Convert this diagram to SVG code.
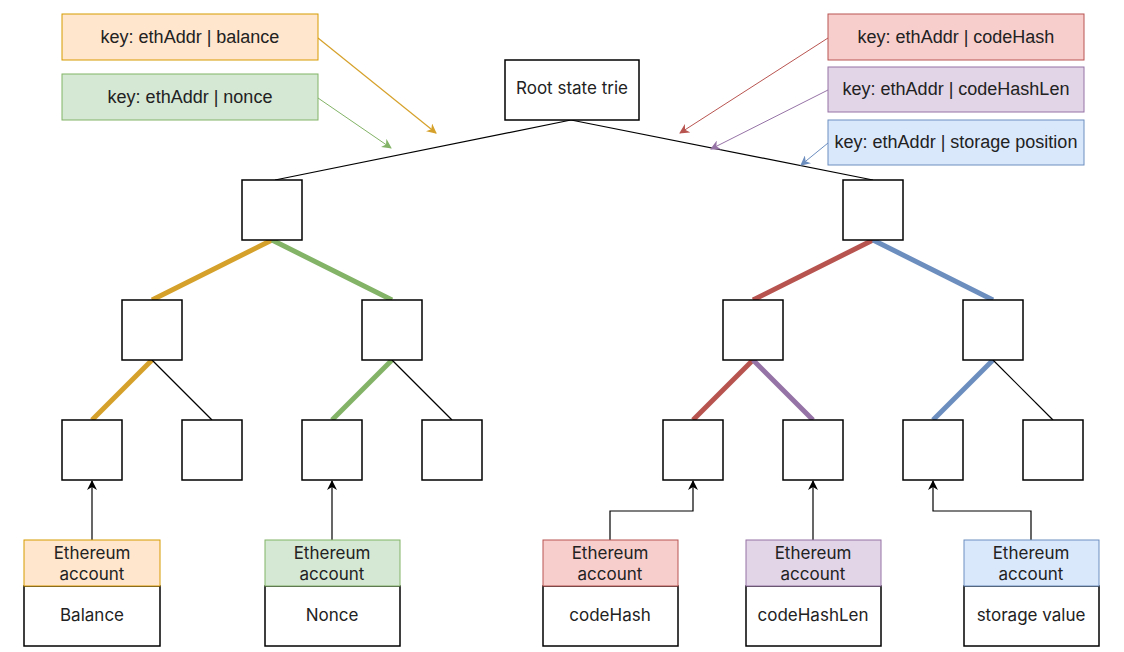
<svg xmlns="http://www.w3.org/2000/svg" width="1124" height="652" viewBox="0 0 1124 652">
<style>
.node{fill:#fff;stroke:#000;stroke-width:1.5}
.key{font-family:"Liberation Sans",Arial,sans-serif;font-size:18px;fill:#222;text-anchor:middle}
.lbl{font-family:Inter,"Noto Sans",sans-serif;font-size:17px;fill:#222;text-anchor:middle}
.thin{stroke:#000;stroke-width:1.2;fill:none}
.thick{stroke-width:5;fill:none;stroke-linecap:butt}
</style>
<defs>
<marker id="aO" markerWidth="10" markerHeight="10" refX="9" refY="5" orient="auto" markerUnits="userSpaceOnUse"><path d="M0,0 L10,5 L0,10 L3,5 Z" fill="#d6a12a"/></marker>
<marker id="aG" markerWidth="10" markerHeight="10" refX="9" refY="5" orient="auto" markerUnits="userSpaceOnUse"><path d="M0,0 L10,5 L0,10 L3,5 Z" fill="#82b366"/></marker>
<marker id="aR" markerWidth="10" markerHeight="10" refX="9" refY="5" orient="auto" markerUnits="userSpaceOnUse"><path d="M0,0 L10,5 L0,10 L3,5 Z" fill="#b85450"/></marker>
<marker id="aP" markerWidth="10" markerHeight="10" refX="9" refY="5" orient="auto" markerUnits="userSpaceOnUse"><path d="M0,0 L10,5 L0,10 L3,5 Z" fill="#9673a6"/></marker>
<marker id="aB" markerWidth="10" markerHeight="10" refX="9" refY="5" orient="auto" markerUnits="userSpaceOnUse"><path d="M0,0 L10,5 L0,10 L3,5 Z" fill="#6c8ebf"/></marker>
<marker id="aK" markerWidth="10" markerHeight="10" refX="9" refY="5" orient="auto" markerUnits="userSpaceOnUse"><path d="M0,0 L10,5 L0,10 L3,5 Z" fill="#000"/></marker>
</defs>
<rect width="1124" height="652" fill="#fff"/>

<g id="connectors">
<line class="thin" x1="571" y1="120" x2="275" y2="180"/>
<line class="thin" x1="571" y1="120" x2="873" y2="180"/>
<line class="thick" stroke="#d6a12a" x1="272" y1="240" x2="152" y2="300"/>
<line class="thick" stroke="#82b366" x1="272" y1="240" x2="392" y2="300"/>
<line class="thick" stroke="#b85450" x1="873" y1="240" x2="753" y2="300"/>
<line class="thick" stroke="#6c8ebf" x1="873" y1="240" x2="993" y2="300"/>
<line class="thick" stroke="#d6a12a" x1="152" y1="360" x2="92" y2="420"/>
<line class="thin" x1="152" y1="360" x2="212" y2="420"/>
<line class="thick" stroke="#82b366" x1="392" y1="360" x2="332" y2="420"/>
<line class="thin" x1="392" y1="360" x2="452" y2="420"/>
<line class="thick" stroke="#b85450" x1="753" y1="360" x2="693" y2="420"/>
<line class="thick" stroke="#9673a6" x1="753" y1="360" x2="813" y2="420"/>
<line class="thick" stroke="#6c8ebf" x1="993" y1="360" x2="933" y2="420"/>
<line class="thin" x1="993" y1="360" x2="1053" y2="420"/>
<line stroke="#d6a12a" stroke-width="1.2" x1="318" y1="38" x2="436" y2="133" marker-end="url(#aO)"/>
<line stroke="#82b366" stroke-width="1" x1="318" y1="98" x2="391" y2="148" marker-end="url(#aG)"/>
<line stroke="#b85450" stroke-width="1" x1="828" y1="38" x2="680" y2="133" marker-end="url(#aR)"/>
<line stroke="#9673a6" stroke-width="1" x1="828" y1="90" x2="711" y2="149" marker-end="url(#aP)"/>
<line stroke="#6c8ebf" stroke-width="1" x1="828" y1="143" x2="801" y2="165" marker-end="url(#aB)"/>
<path class="thin" stroke-width="1.5" d="M92,540 V481" marker-end="url(#aK)"/>
<path class="thin" stroke-width="1.5" d="M332,540 V481" marker-end="url(#aK)"/>
<path class="thin" stroke-width="1.5" d="M610,540 V511 H693 V481" marker-end="url(#aK)"/>
<path class="thin" stroke-width="1.5" d="M813,540 V481" marker-end="url(#aK)"/>
<path class="thin" stroke-width="1.5" d="M1031,540 V511 H933 V481" marker-end="url(#aK)"/>
</g>

<g id="key-balance"><rect x="62" y="14" width="256" height="46" fill="#ffe6cc" stroke="#d79b00"/><text class="key" x="190" y="43">key: ethAddr | balance</text></g>
<g id="key-nonce"><rect x="62" y="74" width="256" height="46" fill="#d5e8d4" stroke="#82b366"/><text class="key" x="190" y="103">key: ethAddr | nonce</text></g>
<g id="key-codehash"><rect x="828" y="14" width="256" height="46" fill="#f8cecc" stroke="#b85450"/><text class="key" x="956" y="43">key: ethAddr | codeHash</text></g>
<g id="key-codehashlen"><rect x="828" y="67" width="256" height="45" fill="#e1d5e7" stroke="#9673a6"/><text class="key" x="956" y="95">key: ethAddr | codeHashLen</text></g>
<g id="key-storage"><rect x="828" y="120" width="256" height="45" fill="#dae8fc" stroke="#6c8ebf"/><text class="key" x="956" y="148">key: ethAddr | storage position</text></g>

<g id="root"><rect class="node" x="505" y="60" width="134" height="60"/><text class="lbl" x="572" y="94">Root state trie</text></g>

<g id="n1a"><rect class="node" x="242" y="180" width="60" height="60"/></g>
<g id="n1b"><rect class="node" x="843" y="180" width="60" height="60"/></g>
<g id="n2a"><rect class="node" x="122" y="300" width="60" height="60"/></g>
<g id="n2b"><rect class="node" x="362" y="300" width="60" height="60"/></g>
<g id="n2c"><rect class="node" x="723" y="300" width="60" height="60"/></g>
<g id="n2d"><rect class="node" x="963" y="300" width="60" height="60"/></g>
<g id="n3a"><rect class="node" x="62" y="420" width="60" height="60"/></g>
<g id="n3b"><rect class="node" x="182" y="420" width="60" height="60"/></g>
<g id="n3c"><rect class="node" x="302" y="420" width="60" height="60"/></g>
<g id="n3d"><rect class="node" x="422" y="420" width="60" height="60"/></g>
<g id="n3e"><rect class="node" x="663" y="420" width="60" height="60"/></g>
<g id="n3f"><rect class="node" x="783" y="420" width="60" height="60"/></g>
<g id="n3g"><rect class="node" x="903" y="420" width="60" height="60"/></g>
<g id="n3h"><rect class="node" x="1023" y="420" width="60" height="60"/></g>

<g id="acc-balance"><rect x="24" y="586" width="136" height="60" class="node"/><rect x="24" y="540" width="136" height="46" fill="#ffe6cc" stroke="#d79b00"/><text class="lbl" x="92" y="559">Ethereum</text><text class="lbl" x="92" y="580">account</text><text class="lbl" x="92" y="621">Balance</text></g>
<g id="acc-nonce"><rect x="265" y="586" width="135" height="60" class="node"/><rect x="265" y="540" width="135" height="46" fill="#d5e8d4" stroke="#82b366"/><text class="lbl" x="332" y="559">Ethereum</text><text class="lbl" x="332" y="580">account</text><text class="lbl" x="332" y="621">Nonce</text></g>
<g id="acc-codehash"><rect x="543" y="586" width="135" height="60" class="node"/><rect x="543" y="540" width="135" height="46" fill="#f8cecc" stroke="#b85450"/><text class="lbl" x="610" y="559">Ethereum</text><text class="lbl" x="610" y="580">account</text><text class="lbl" x="610" y="621">codeHash</text></g>
<g id="acc-codehashlen"><rect x="746" y="586" width="135" height="60" class="node"/><rect x="746" y="540" width="135" height="46" fill="#e1d5e7" stroke="#9673a6"/><text class="lbl" x="813" y="559">Ethereum</text><text class="lbl" x="813" y="580">account</text><text class="lbl" x="813" y="621">codeHashLen</text></g>
<g id="acc-storage"><rect x="964" y="586" width="135" height="60" class="node"/><rect x="964" y="540" width="135" height="46" fill="#dae8fc" stroke="#6c8ebf"/><text class="lbl" x="1031" y="559">Ethereum</text><text class="lbl" x="1031" y="580">account</text><text class="lbl" x="1031" y="621">storage value</text></g>
</svg>
